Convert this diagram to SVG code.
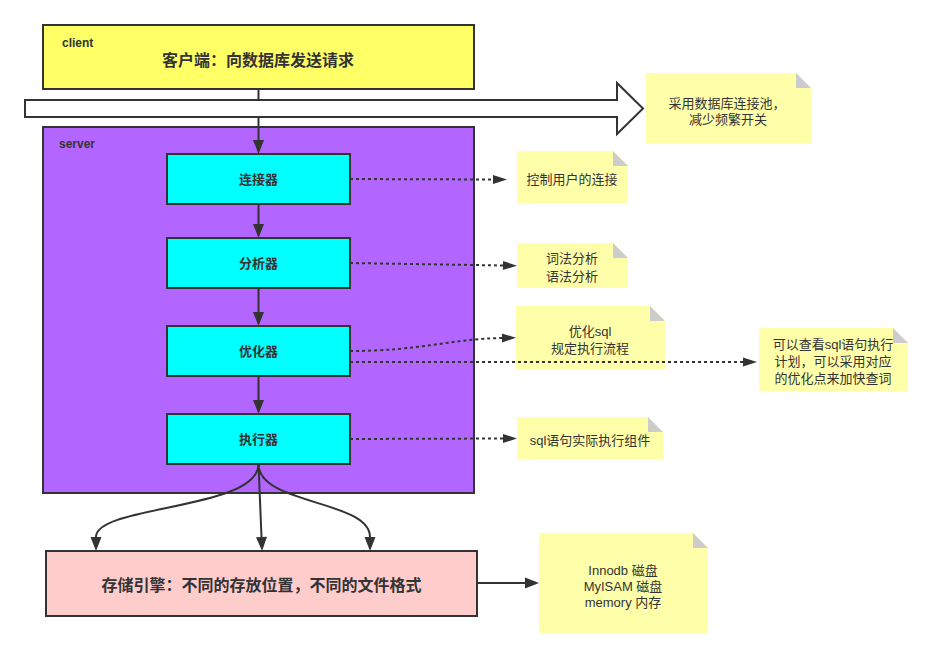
<svg xmlns="http://www.w3.org/2000/svg" width="933" height="658" viewBox="0 0 933 658">
<style>
text{font-family:"Liberation Sans","Noto Sans CJK SC",sans-serif;fill:#333333}
.box{stroke:#333333;stroke-width:2}
.lbl{font-size:13px;font-weight:bold;text-anchor:middle;dominant-baseline:central}
.big{font-size:16px;font-weight:bold;text-anchor:middle;dominant-baseline:central}
.tag{font-size:12px;font-weight:bold}
.note{fill:#FFFFAA}
.fold{fill:#CCCCCC}
.nt{font-size:13px;text-anchor:middle;dominant-baseline:central}
.edge{fill:none;stroke:#333333;stroke-width:2}
.dot{fill:none;stroke:#333333;stroke-width:2;stroke-dasharray:3 3}
</style>
<defs>
<marker id="ah" markerUnits="userSpaceOnUse" markerWidth="14" markerHeight="11" refX="0" refY="5.5" orient="auto" overflow="visible">
<path d="M0,0 L14,5.5 L0,11 Z" fill="#333333"/>
</marker>
<marker id="ad" markerUnits="userSpaceOnUse" markerWidth="14" markerHeight="9" refX="0" refY="4.5" orient="auto" overflow="visible">
<path d="M0,0 L14,4.5 L0,9 Z" fill="#333333"/>
</marker>
</defs>

<g id="client">
<rect class="box" x="43" y="25" width="431" height="64" fill="#FFFF66"/>
<text class="tag" x="62" y="47">client</text>
<text class="big" x="258" y="60">客户端：向数据库发送请求</text>
</g>

<g id="server">
<rect class="box" x="43" y="127" width="431" height="366" fill="#B266FF"/>
<text class="tag" x="59" y="148">server</text>
</g>

<g id="pool-arrow">
<polygon class="box" fill="#FFFFFF" points="25,100 617,100 617,83 643,108.5 617,134 617,117 25,117"/>
</g>

<g id="connector-node">
<rect class="box" x="167" y="154" width="183" height="50" fill="#00FFFF"/>
<text class="lbl" x="258.5" y="179">连接器</text>
</g>
<g id="analyzer">
<rect class="box" x="167" y="238" width="183" height="50" fill="#00FFFF"/>
<text class="lbl" x="258.5" y="263">分析器</text>
</g>
<g id="optimizer">
<rect class="box" x="167" y="326" width="183" height="50" fill="#00FFFF"/>
<text class="lbl" x="258.5" y="351">优化器</text>
</g>
<g id="executor">
<rect class="box" x="167" y="414" width="183" height="50" fill="#00FFFF"/>
<text class="lbl" x="258.5" y="439">执行器</text>
</g>

<g id="storage">
<rect class="box" x="46" y="551" width="431" height="65" fill="#FFCCCC"/>
<text class="big" x="261.5" y="585">存储引擎：不同的存放位置，不同的文件格式</text>
</g>

<g id="note-pool">
<polygon class="note" points="646,73 796,73 811,88 811,143 646,143"/>
<polygon class="fold" points="796,73 811,88 796,88"/>
<text class="nt" x="727" y="103">采用数据库连接池，</text>
<text class="nt" x="728" y="119">减少频繁开关</text>
</g>
<g id="note-connector">
<polygon class="note" points="517,151 613,151 628,166 628,203 517,203"/>
<polygon class="fold" points="613,151 628,166 613,166"/>
<text class="nt" x="572" y="179">控制用户的连接</text>
</g>
<g id="note-analyzer">
<polygon class="note" points="517,243 613,243 628,258 628,288 517,288"/>
<polygon class="fold" points="613,243 628,258 613,258"/>
<text class="nt" x="572" y="258">词法分析</text>
<text class="nt" x="572" y="276">语法分析</text>
</g>
<g id="note-optimizer">
<polygon class="note" points="516,306 650,306 665,321 665,369 516,369"/>
<polygon class="fold" points="650,306 665,321 650,321"/>
<text class="nt" x="590" y="331">优化sql</text>
<text class="nt" x="590" y="348">规定执行流程</text>
</g>
<g id="note-plan">
<polygon class="note" points="759,328 893,328 908,343 908,391 759,391"/>
<polygon class="fold" points="893,328 908,343 893,343"/>
<text class="nt" x="833" y="344">可以查看sql语句执行</text>
<text class="nt" x="833" y="361">计划，可以采用对应</text>
<text class="nt" x="833" y="378">的优化点来加快查词</text>
</g>
<g id="note-executor">
<polygon class="note" points="517,417 648,417 663,432 663,459 517,459"/>
<polygon class="fold" points="648,417 663,432 648,432"/>
<text class="nt" x="590" y="440">sql语句实际执行组件</text>
</g>
<g id="note-engines">
<polygon class="note" points="539,533 693,533 708,548 708,633 539,633"/>
<polygon class="fold" points="693,533 708,548 693,548"/>
<text class="nt" x="623" y="570">Innodb 磁盘</text>
<text class="nt" x="623" y="586">MyISAM 磁盘</text>
<text class="nt" x="623" y="602">memory 内存</text>
</g>

<g id="connectors">
<path class="edge" d="M258.5,89 L258.5,99"/>
<path class="edge" d="M258.5,118 L258.5,140" marker-end="url(#ah)"/>
<path class="edge" d="M258.5,204 L258.5,224" marker-end="url(#ah)"/>
<path class="edge" d="M258.5,288 L258.5,312" marker-end="url(#ah)"/>
<path class="edge" d="M258.5,376 L258.5,400" marker-end="url(#ah)"/>
<path class="edge" d="M258.5,464 C258.5,510 96,505 96,537" marker-end="url(#ah)"/>
<path class="edge" d="M258.5,464 L261.5,537" marker-end="url(#ah)"/>
<path class="edge" d="M258.5,464 C258.5,505 370,500 370,537" marker-end="url(#ah)"/>
<path class="edge" d="M477,583 L525,583" marker-end="url(#ah)"/>
<path class="dot" d="M350,179 L493,179.5" marker-end="url(#ad)"/>
<path class="dot" d="M350,263 L503,265.5" marker-end="url(#ad)"/>
<path class="dot" d="M350,351 C420,351 450,339 502,338" marker-end="url(#ad)"/>
<path class="dot" d="M350,362 L743,362" marker-end="url(#ad)"/>
<path class="dot" d="M350,439 L503,438.5" marker-end="url(#ad)"/>
</g>
</svg>
